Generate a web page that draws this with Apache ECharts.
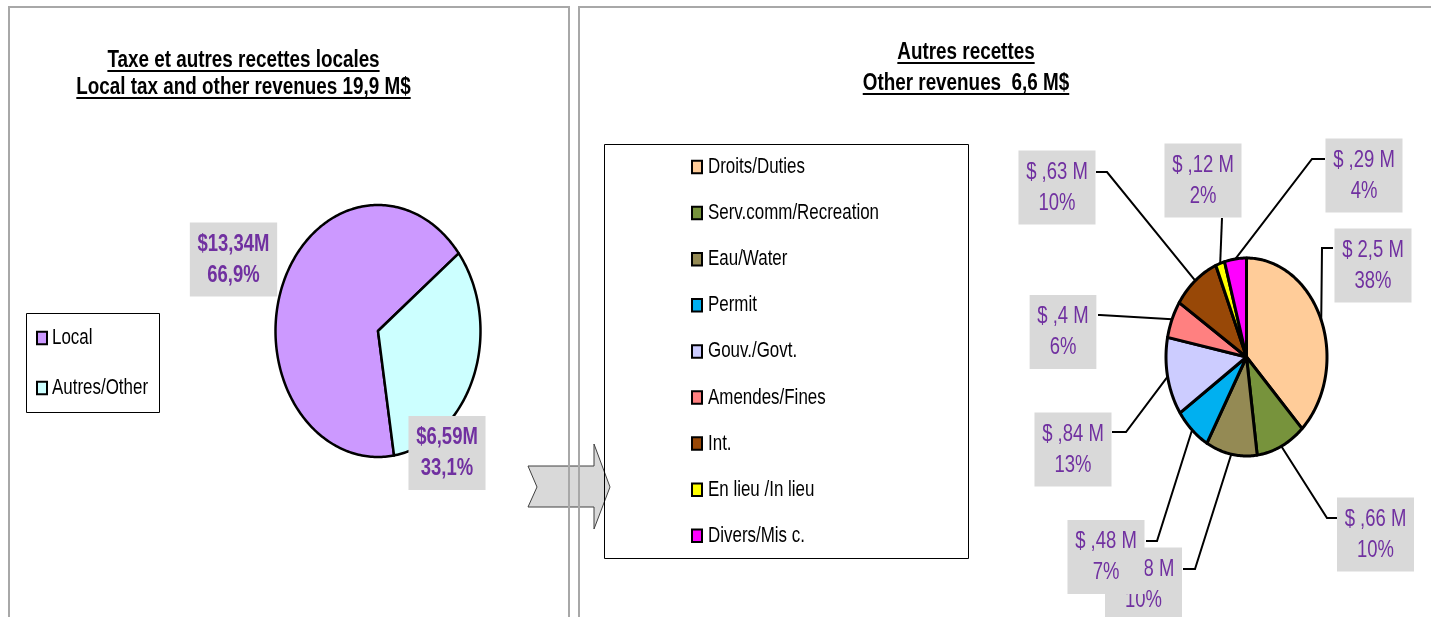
<!DOCTYPE html>
<html><head><meta charset="utf-8">
<script src="https://cdn.jsdelivr.net/npm/echarts@6/dist/echarts.min.js"></script>
<style>html,body{margin:0;padding:0;background:#fff}#c{width:1431px;height:617px}</style>
</head><body><div id="c"></div>
<script>
// ---------- data ----------
const leftCategories = ['Local', 'Autres/Other'];
const leftValues = [13.34, 6.59];
const rightCategories = ['Droits/Duties', 'Serv.comm/Recreation', 'Eau/Water', 'Permit', 'Gouv./Govt.',
  'Amendes/Fines', 'Int.', 'En lieu /In lieu', 'Divers/Mis c.'];
const rightValues = [2.5, 0.66, 0.68, 0.48, 0.84, 0.4, 0.63, 0.12, 0.29];
const leftTitleLines = ['Taxe et autres recettes locales', 'Local tax and other revenues 19,9 M$'];
const rightTitleLines = ['Autres recettes', 'Other revenues  6,6 M$'];

// ---------- styles / layout ----------
const FONT = '"Liberation Sans", Arial, sans-serif';
const NARROW_TITLE = 0.82, NARROW_LABEL = 0.77, NARROW_LEGEND = 0.77;
const leftColors = ['#CC99FF', '#CCFFFF'];
const rightColors = ['#FFCC99', '#77933C', '#948A54', '#00B0F0', '#CCCCFF', '#FF8080', '#984807', '#FFFF00', '#FF00FF'];
const leftGeom = { cx: 378, cy: 331, rx: 102.5, ry: 126, start: 171, lw: 2.5 };
const rightGeom = { cx: 1246.5, cy: 357, rx: 80.5, ry: 99, start: 0, lw: 3 };
// [labelCenterX, labelCenterY, elbowX, elbowY, attachX, attachY]
const leftLabelLayout = [[233.5, 259.5], [447, 453]];
const rightLabelLayout = [
  [1373, 265.5, 1322, 248, 1333, 248],
  [1375.5, 534.5, 1327, 518, 1337, 518],
  [1143.5, 584.5, 1195, 569, 1183, 569],
  [1106, 557, 1157, 541, 1146, 541],
  [1073, 449.5, 1126, 432, 1112, 432],
  [1063, 332, 1100, 315, 1098, 315],
  [1057, 187.5, 1107, 172, 1096, 172],
  [1203, 180.5, 1222, 218, 1222, 218],
  [1364, 175.5, 1312, 159, 1325, 159]
];
const leftLegendLayout = { box: { x: 26.5, y: 313.5, width: 133, height: 99 }, iconX: 37, textGap: 15, y0: 338, step: 50 };
const rightLegendLayout = { box: { x: 604.5, y: 144.5, width: 364, height: 414 }, iconX: 692, textGap: 16, y0: 167, step: 46.1 };

const fmtLeftVal = v => '$' + v.toFixed(2).replace('.', ',') + 'M';
const fmtLeftPct = (v, t) => (v / t * 100).toFixed(1).replace('.', ',') + '%';
const fmtRightVal = v => '$ ' + String(v).replace(/^0/, '').replace('.', ',') + ' M';
const fmtRightPct = (v, t) => Math.round(v / t * 100) + '%';

function makeSeries(cats, vals, colors, g, layout, fmtVal, fmtPct, bold) {
  const total = vals.reduce((a, b) => a + b, 0);
  let acc = 0;
  return cats.map((name, i) => {
    const a0 = g.start + acc / total * 360;
    acc += vals[i];
    const a1 = g.start + acc / total * 360;
    return {
      type: 'custom', name, coordinateSystem: 'none',
      itemStyle: { color: colors[i] },
      data: [vals[i]],
      renderItem: (params, api) => {
        const v = api.value(0);
        const pt = d => { const r = d * Math.PI / 180; return [g.cx + g.rx * Math.sin(r), g.cy - g.ry * Math.cos(r)]; };
        const pts = [[g.cx, g.cy]];
        const n = Math.max(2, Math.ceil(a1 - a0));
        for (let k = 0; k <= n; k++) pts.push(pt(a0 + (a1 - a0) * k / n));
        const children = [{
          type: 'polygon', shape: { points: pts },
          style: { fill: api.visual('color'), stroke: '#000', lineWidth: g.lw, lineJoin: 'round' }
        }];
        const L = layout[i];
        if (L.length > 2) {
          children.push({
            type: 'polyline', z2: 1,
            shape: { points: [pt((a0 + a1) / 2), [L[2], L[3]], [L[4], L[5]]] },
            style: { stroke: '#000', lineWidth: 2, fill: null }
          });
        }
        children.push({
          type: 'text', x: L[0], y: L[1], z2: 2, scaleX: NARROW_LABEL,
          style: {
            text: fmtVal(v) + '\n' + fmtPct(v, total),
            fill: '#7030A0', fontFamily: FONT, fontSize: 24, fontWeight: bold ? 'bold' : 'normal',
            align: 'center', verticalAlign: 'middle', lineHeight: 31,
            backgroundColor: '#D9D9D9', padding: [6, 10, 6, 10]
          }
        });
        return { type: 'group', children };
      }
    };
  });
}

const ctx = document.createElement('canvas').getContext('2d');
function textW(t, font) { ctx.font = font; return ctx.measureText(t).width; }
function titleGraphics(lines, cx, ys) {
  const out = [];
  const font = 'bold 23px ' + FONT;
  lines.forEach((t, i) => {
    out.push({ type: 'text', x: cx, y: ys[i], scaleX: NARROW_TITLE, style: { text: t, fill: '#000', font, align: 'center', verticalAlign: 'middle' } });
    const w = textW(t, font) * NARROW_TITLE;
    out.push({ type: 'line', shape: { x1: cx - w / 2, y1: ys[i] + 10, x2: cx + w / 2, y2: ys[i] + 10 }, style: { stroke: '#000', lineWidth: 2 } });
  });
  return out;
}
function legendGraphics(cats, colors, L) {
  const out = [{ type: 'rect', shape: L.box, style: { fill: null, stroke: '#000', lineWidth: 1 } }];
  cats.forEach((c, i) => {
    const y = L.y0 + i * L.step;
    out.push({ type: 'rect', shape: { x: L.iconX, y: y - 6.25, width: 10, height: 12.5 }, style: { fill: colors[i], stroke: '#000', lineWidth: 2 } });
    out.push({ type: 'text', x: L.iconX + L.textGap, y, scaleX: NARROW_LEGEND,
      style: { text: c, font: '22px ' + FONT, fill: '#000', align: 'left', verticalAlign: 'middle' } });
  });
  return out;
}

const chart = echarts.init(document.getElementById('c'), null, { renderer: 'canvas' });
chart.setOption({
  animation: false,
  backgroundColor: '#fff',
  graphic: [
    { type: 'polygon', z: -10, shape: { points: [[528, 466], [594, 466], [594, 444], [610, 487], [594, 529], [594, 507], [528, 507], [537, 487]] },
      style: { fill: '#D9D9D9', stroke: '#404040', lineWidth: 1 } },
    { type: 'rect', z: -5, shape: { x: 9, y: 7, width: 560, height: 700 }, style: { fill: null, stroke: '#A8A8A8', lineWidth: 2 } },
    { type: 'rect', z: -5, shape: { x: 579, y: 7, width: 900, height: 700 }, style: { fill: null, stroke: '#A8A8A8', lineWidth: 2 } }
  ].concat(
    titleGraphics(leftTitleLines, 243.5, [61, 88]),
    titleGraphics(rightTitleLines, 966, [53, 84]),
    legendGraphics(leftCategories, leftColors, leftLegendLayout),
    legendGraphics(rightCategories, rightColors, rightLegendLayout)
  ),
  series: makeSeries(leftCategories, leftValues, leftColors, leftGeom, leftLabelLayout, fmtLeftVal, fmtLeftPct, true)
    .concat(makeSeries(rightCategories, rightValues, rightColors, rightGeom, rightLabelLayout, fmtRightVal, fmtRightPct, false))
});
</script></body></html>
